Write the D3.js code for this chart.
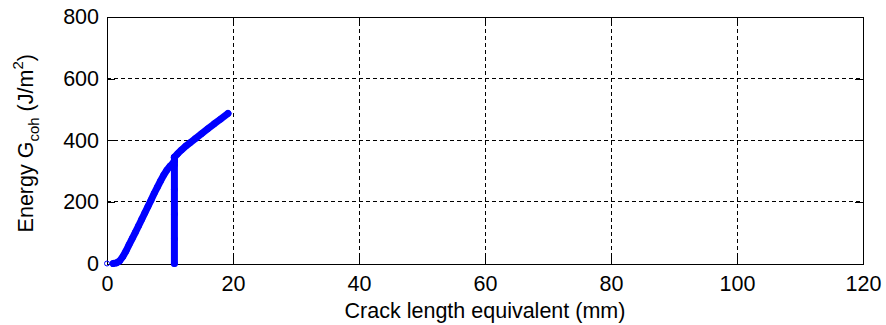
<!DOCTYPE html>
<html>
<head>
<meta charset="utf-8">
<script src="https://cdn.jsdelivr.net/npm/d3@7"></script>
<style>
  html, body { margin: 0; padding: 0; background: #fff; }
  svg { display: block; }
  text { font-family: "Liberation Sans", Arial, sans-serif; fill: #000; }
</style>
</head>
<body>
<svg id="chart" width="886" height="325"></svg>
<script>
// Loading branch of the cohesive energy curve
const loadX = [1.0, 1.5, 2.0, 2.5, 3.0, 3.5, 4.0, 4.5, 5.0, 5.5, 6.0, 6.5, 7.0, 7.5, 8.0, 8.5, 9.0, 9.5, 10.0, 10.4, 10.7];
const loadY = [0, 2, 8, 22, 40, 61, 81, 101, 122, 143, 164, 185, 206, 228, 248, 268, 287, 303, 316, 324, 332];
// Vertical drop at constant crack length
const dropX = [10.7, 10.7, 10.7, 10.7, 10.7, 10.7];
const dropY = [0, 80, 160, 240, 320, 345];
// Continued propagation branch
const growX = [10.7, 11.2, 11.8, 12.5, 13.2, 14.0, 15.0, 16.0, 17.0, 18.0, 19.2];
const growY = [345, 356, 368, 381, 392, 405, 421, 437, 453, 468, 487];
// Isolated initial point
const originX = [0];
const originY = [0];

const xTicks = [0, 20, 40, 60, 80, 100, 120];
const yTicks = [0, 200, 400, 600, 800];

const svg = d3.select("#chart");
const m = { left: 107, right: 23, top: 17, bottom: 61.5 };
const W = 886, H = 325;
const x = d3.scaleLinear().domain([0, 120]).range([m.left, W - m.right]);
const y = d3.scaleLinear().domain([0, 800]).range([H - m.bottom, m.top]);
const fs = 21.5;
const tickLen = 8;

// Dashed grid
const grid = svg.append("g").attr("stroke", "#000").attr("stroke-width", 1)
  .attr("stroke-dasharray", "4,3").attr("shape-rendering", "crispEdges");
xTicks.slice(1, -1).forEach(t => grid.append("line")
  .attr("x1", x(t)).attr("x2", x(t)).attr("y1", y(0)).attr("y2", y(800)));
yTicks.slice(1, -1).forEach(t => grid.append("line")
  .attr("y1", y(t)).attr("y2", y(t)).attr("x1", x(0)).attr("x2", x(120)));

// Axes with inward ticks on all four sides
const axB = d3.axisBottom(x).tickValues(xTicks).tickSizeInner(-tickLen).tickSizeOuter(0).tickPadding(12);
const axT = d3.axisTop(x).tickValues(xTicks).tickSizeInner(-tickLen).tickSizeOuter(0).tickFormat("");
const axL = d3.axisLeft(y).tickValues(yTicks).tickSizeInner(-tickLen).tickSizeOuter(0).tickPadding(8);
const axR = d3.axisRight(y).tickValues(yTicks).tickSizeInner(-tickLen).tickSizeOuter(0).tickFormat("");

function styleAxis(g) {
  g.select(".domain").attr("stroke", "#000").attr("stroke-width", 1);
  g.selectAll(".tick line").attr("stroke", "#000").attr("stroke-width", 1);
  g.selectAll(".tick text").style("font-size", fs + "px").attr("fill", "#000")
    .style("font-family", '"Liberation Sans", Arial, sans-serif');
  g.attr("shape-rendering", "crispEdges");
}
svg.append("g").attr("transform", `translate(0,${y(0)})`).call(axB).call(styleAxis);
svg.append("g").attr("transform", `translate(0,${y(800)})`).call(axT).call(styleAxis);
svg.append("g").attr("transform", `translate(${x(0)},0)`).call(axL).call(styleAxis);
svg.append("g").attr("transform", `translate(${x(120)},0)`).call(axR).call(styleAxis);

// Data branches drawn as densely packed circle markers
const blue = "#0000ff";
const line = d3.line().x(d => x(d[0])).y(d => y(d[1]));
const branches = [
  d3.zip(loadX, loadY),
  d3.zip(dropX, dropY),
  d3.zip(growX, growY)
];
const plot = svg.append("g");
branches.forEach(pts => {
  plot.append("path").datum(pts).attr("d", line)
    .attr("fill", "none").attr("stroke", blue).attr("stroke-width", 7)
    .attr("stroke-linejoin", "round").attr("stroke-linecap", "round");
  plot.selectAll(null).data(pts).enter().append("circle")
    .attr("cx", d => x(d[0])).attr("cy", d => y(d[1])).attr("r", 3)
    .attr("fill", "none").attr("stroke", blue).attr("stroke-width", 1);
});
plot.selectAll(null).data(d3.zip(originX, originY)).enter().append("circle")
  .attr("cx", d => x(d[0])).attr("cy", d => y(d[1])).attr("r", 2.5)
  .attr("fill", "none").attr("stroke", blue).attr("stroke-width", 1);

// Axis titles
svg.append("text")
  .attr("x", (x(0) + x(120)) / 2).attr("y", 318)
  .attr("text-anchor", "middle").style("font-size", fs + "px")
  .text("Crack length equivalent (mm)");

const yl = svg.append("text")
  .attr("transform", `translate(33,${(y(0) + y(800)) / 2 + 3}) rotate(-90)`)
  .attr("text-anchor", "middle").style("font-size", fs + "px");
yl.append("tspan").text("Energy G");
yl.append("tspan").attr("dy", 6).style("font-size", "15px").text("coh");
yl.append("tspan").attr("dy", -6).text(" (J/m");
yl.append("tspan").attr("dy", -10).style("font-size", "15px").text("2");
yl.append("tspan").attr("dy", 10).text(")");
</script>
</body>
</html>
